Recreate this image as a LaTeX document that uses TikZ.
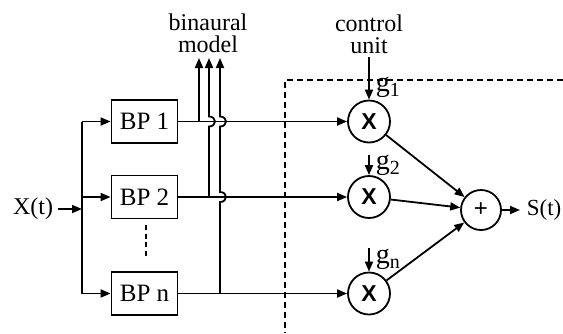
\documentclass[tikz,border=0pt]{standalone}
\usepackage{fontspec}
\setmainfont{Liberation Serif}
\newfontfamily\xsans{Liberation Sans}
\usetikzlibrary{arrows.meta}
\newcommand{\gsub}[1]{g\raisebox{-2.5pt}{\fontsize{10}{10}\selectfont #1}}
\begin{document}
\begin{tikzpicture}[x=0.5pt,y=-0.5pt, line width=0.9pt,
  >={Triangle[length=5pt,width=4pt]},
  bpbox/.style={draw, minimum width=33pt, minimum height=21.5pt, inner sep=0pt, font=\fontsize{12.5}{14}\selectfont},
  opcirc/.style={draw, circle, minimum size=21pt, inner sep=0pt, font=\xsans\bfseries\fontsize{11.5}{13}\selectfont},
  lbl/.style={font=\fontsize{12}{11}\selectfont, align=center, inner sep=0pt},
  glbl/.style={font=\fontsize{14}{14}\selectfont, inner sep=0pt, anchor=west},
  boundary/.style={dash pattern=on 3pt off 2pt, line width=1pt},
  dotline/.style={dash pattern=on 2.5pt off 1.8pt}
]
\useasboundingbox (0,0) rectangle (563,333);

% band-pass boxes
\node[bpbox] (bp1) at (144.5,121.5) {BP 1};
\node[bpbox] (bp2) at (144.5,197) {BP 2};
\node[bpbox] (bpn) at (144.5,293.5) {BP n};
\coordinate (d1) at (146,225);
\coordinate (d2) at (146,258);
\draw[dotline] (d1) -- (d2);

% input
\node[lbl, anchor=east] (x) at (54,209) {X(t)};
\coordinate (split) at (82,209);
\coordinate (s1) at (82,121.5);
\coordinate (s2) at (82,197);
\coordinate (sn) at (82,293.5);
\draw (s1) -- (sn);
\draw[->, shorten <=2pt] (x) -- (split);
\draw[->] (s1) -- (bp1);
\draw[->] (s2) -- (bp2);
\draw[->] (sn) -- (bpn);

% multipliers and sum
\node[opcirc] (m1) at (369,121.5) {X};
\node[opcirc] (m2) at (369,197) {X};
\node[opcirc] (mn) at (369,293.5) {X};
\node[opcirc, minimum size=20pt, font=\xsans\fontsize{12}{14}\selectfont] (sum) at (481,210) {+};
\node[lbl, anchor=west, font=\fontsize{11.5}{14}\selectfont] (out) at (526,210) {S(t)};

\draw[->] (bp1) -- (m1);
\draw[->] (bp2) -- (m2);
\draw[->] (bpn) -- (mn);
\draw[->] (m1) -- (sum);
\draw[->] (m2) -- (sum);
\draw[->] (mn) -- (sum);
\draw[->, shorten >=3pt] (sum) -- (out);

% control unit and gains
\node[lbl] (cu) at (369,34) {control\\unit};
\coordinate (cuout) at (369,57);
\draw[->] (cuout) -- (m1);
\node[glbl] (g1) at (375,87) {\gsub{1}};
\coordinate (g2in) at (369,155);
\draw[->] (g2in) -- (m2);
\node[glbl] (g2) at (375,165) {\gsub{2}};
\coordinate (gnin) at (369,248);
\draw[->] (gnin) -- (mn);
\node[glbl] (gn) at (375,259) {\gsub{n}};

% binaural model taps
\node[lbl] (bm) at (208,33) {binaural\\model};
\coordinate (b1s) at (199,121.5);
\coordinate (b1t) at (199,58);
\coordinate (b2s) at (209,197);
\coordinate (b2t) at (209,58);
\coordinate (b3s) at (220,293.5);
\coordinate (b3t) at (220,58);
\draw[->] (b1s) -- (b1t);
\draw[->] (b2s) -- ++(0,-70.5) .. controls +(8,0) and +(8,0) .. ++(0,-10) -- (b2t);
\draw[->] (b3s) -- ++(0,-91.5) .. controls +(8,0) and +(8,0) .. ++(0,-10)
  -- ++(0,-65.5) .. controls +(8,0) and +(8,0) .. ++(0,-10) -- (b3t);

% dashed boundary
\coordinate (bx1) at (563,80);
\coordinate (bx2) at (285,80);
\coordinate (bx3) at (285,333);
\draw[boundary] (bx1) -- (bx2) -- (bx3);
\end{tikzpicture}
\end{document}
